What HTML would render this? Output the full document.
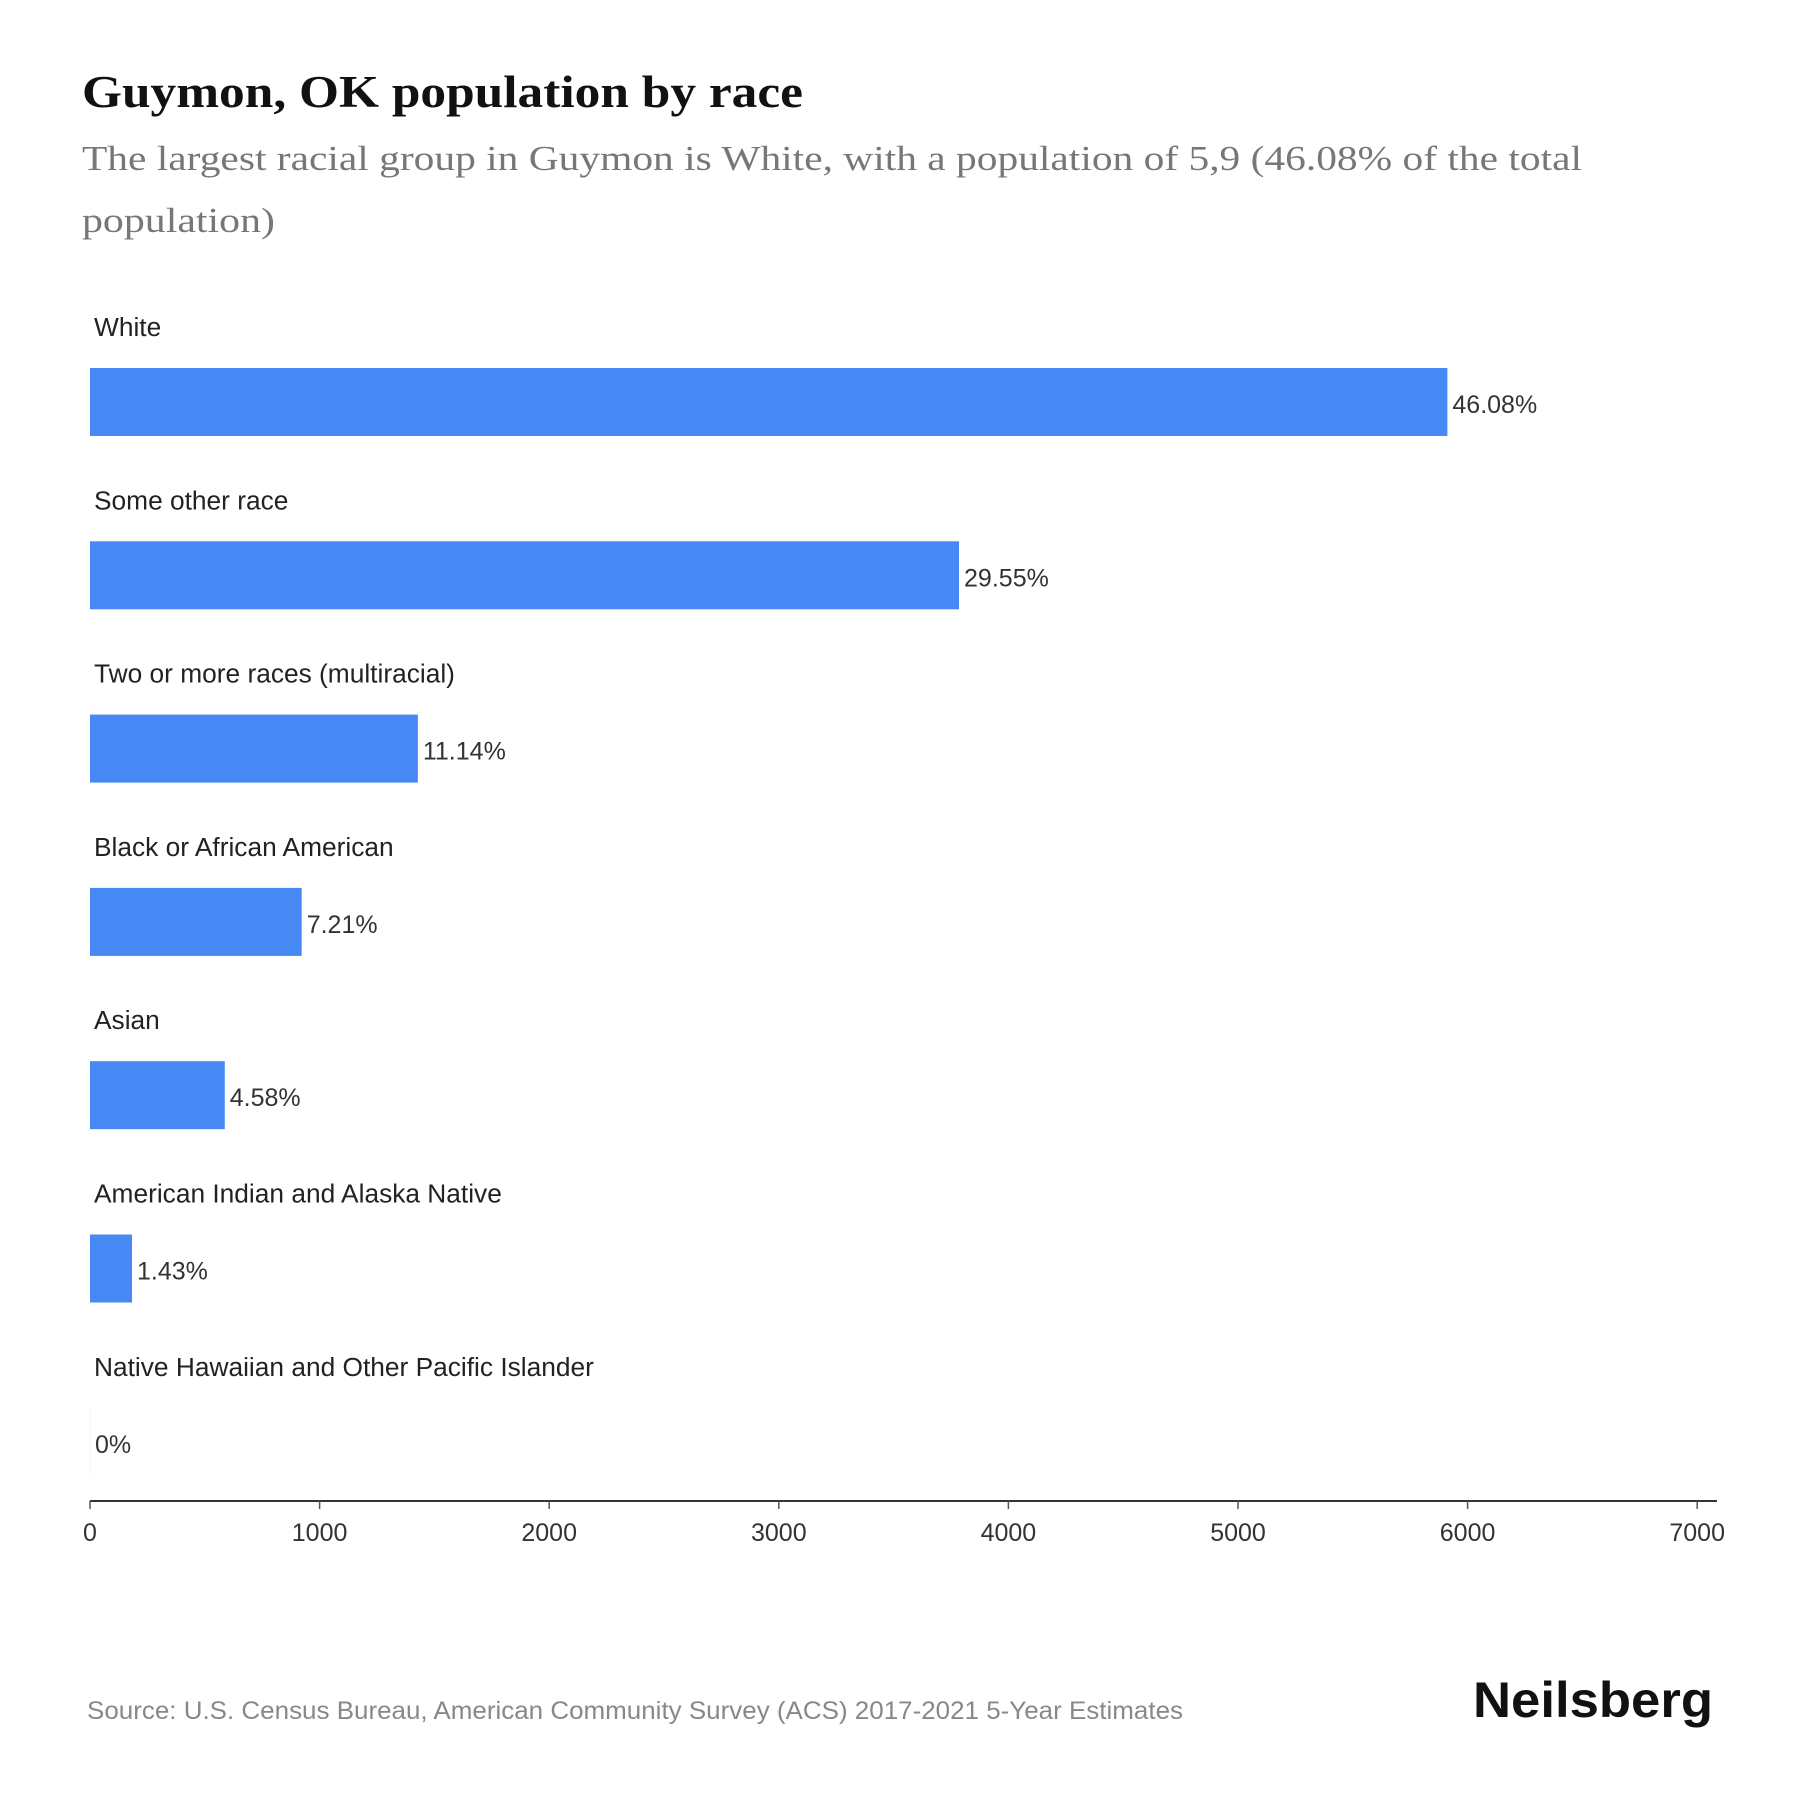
<!DOCTYPE html>
<html><head><meta charset="utf-8"><style>
html,body{margin:0;padding:0;background:#fff;}
svg{display:block;}
</style></head><body>
<svg id="chart" width="1800" height="1800" viewBox="0 0 1800 1800" xmlns="http://www.w3.org/2000/svg">
<text x="82" y="107" font-family="Liberation Serif, serif" font-weight="bold" font-size="45" fill="#111" textLength="721" lengthAdjust="spacingAndGlyphs">Guymon, OK population by race</text>
<text x="82" y="170" font-family="Liberation Serif, serif" font-size="35" fill="#777" textLength="1500" lengthAdjust="spacingAndGlyphs">The largest racial group in Guymon is White, with a population of 5,9 (46.08% of the total</text>
<text x="82" y="232" font-family="Liberation Serif, serif" font-size="35" fill="#777" textLength="193" lengthAdjust="spacingAndGlyphs">population)</text>
<g id="bars"></g>
<g id="axis"></g>
<text x="87" y="1719" font-family="Liberation Sans, sans-serif" font-size="25" fill="#888" textLength="1096" lengthAdjust="spacingAndGlyphs">Source: U.S. Census Bureau, American Community Survey (ACS) 2017-2021 5-Year Estimates</text>
<text x="1473" y="1717" font-family="Liberation Sans, sans-serif" font-weight="bold" font-size="50" fill="#111" textLength="240" lengthAdjust="spacingAndGlyphs">Neilsberg</text>
</svg>
<script>
const categories = ["White","Some other race","Two or more races (multiracial)","Black or African American","Asian","American Indian and Alaska Native","Native Hawaiian and Other Pacific Islander"];
const values = [5912, 3785, 1428, 922, 587, 183, 0];
const percentLabels = ["46.08%","29.55%","11.14%","7.21%","4.58%","1.43%","0%"];
const ticks = [0,1000,2000,3000,4000,5000,6000,7000];

const NS = "http://www.w3.org/2000/svg";
const x0 = 90, pxPer = 229.6/1000;
const xs = v => x0 + v*pxPer;
const rowTop = i => 368 + i*173.3;
const bars = document.getElementById('bars');
const axis = document.getElementById('axis');
function mk(tag, attrs, parent){const e=document.createElementNS(NS,tag);for(const k in attrs)e.setAttribute(k,attrs[k]);parent.appendChild(e);return e;}

categories.forEach((c,i)=>{
  const t = mk('text',{x:94,y:rowTop(i)-32,'font-family':'Liberation Sans, sans-serif','font-size':26.3,fill:'#222'},bars);
  t.textContent = c;
  
  
  const w = Math.max(xs(values[i])-x0, 0.8);
  const r = mk('rect',{x:x0,y:rowTop(i),width:w,height:68,fill:values[i]>0?'#4689f4':'#eef3fd'},bars);
  
  
  const v = mk('text',{x:xs(values[i])+5,y:rowTop(i)+45,'font-family':'Liberation Sans, sans-serif','font-size':25,fill:'#333'},bars);
  v.textContent = percentLabels[i];
  
  
});

const line = mk('line',{x1:x0,x2:1717,y1:1501,y2:1501,stroke:'#333','stroke-width':2},axis);


ticks.forEach(t=>{
  const tk = mk('line',{x1:xs(t),x2:xs(t),y1:1501,y2:1509,stroke:'#555','stroke-width':1.5},axis);
  
  
  const lb = mk('text',{x:xs(t),y:1541,'text-anchor':'middle','font-family':'Liberation Sans, sans-serif','font-size':25,fill:'#333'},axis);
  lb.textContent = String(t);
  
  
});
</script>
</body></html>
